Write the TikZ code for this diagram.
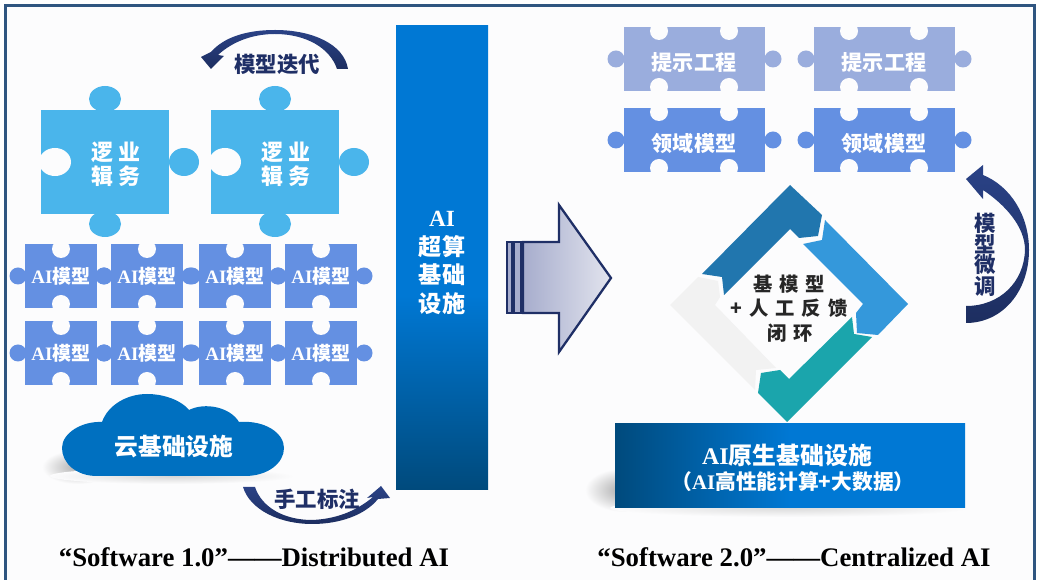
\documentclass[tikz,border=0pt]{standalone}
\usepackage{fontspec}
\setmainfont{Liberation Serif}
\newfontfamily\cjk{Noto Sans CJK SC}
\newfontfamily\cjkwide[LetterSpace=36]{Noto Sans CJK SC}
\definecolor{framecol}{HTML}{2F5580}
\definecolor{bgcol}{HTML}{FCFCFD}
\definecolor{bigcol}{HTML}{4AB5EB}
\definecolor{modelcol}{HTML}{6490E2}
\definecolor{promptcol}{HTML}{9AADDD}
\definecolor{cloudcol}{HTML}{0070C0}
\definecolor{deepblue}{HTML}{004A7C}
\definecolor{brightblue}{HTML}{0078D4}
\definecolor{navy}{HTML}{1F2F66}
\definecolor{navytop}{HTML}{2A4286}
\definecolor{navybot}{HTML}{1D2E60}
\definecolor{arrowleft}{HTML}{A7ADCD}
\definecolor{arrowright}{HTML}{E2E4EE}
\definecolor{cycleone}{HTML}{2176AE}
\definecolor{cycletwo}{HTML}{3498DB}
\definecolor{cyclethree}{HTML}{1BA5AC}
\definecolor{cyclefour}{HTML}{F2F2F2}
\pgfdeclareverticalshading{barshade}{100bp}{color(0bp)=(deepblue); color(25bp)=(deepblue); color(46bp)=(brightblue); color(100bp)=(brightblue)}
\pgfdeclarehorizontalshading{baseshade}{100bp}{color(0bp)=(deepblue); color(25bp)=(deepblue); color(50bp)=(brightblue); color(100bp)=(brightblue)}
\newcommand{\AIbold}{{\rmfamily\bfseries AI}}
\tikzset{
	bigtext/.style={text=white, inner sep=0pt, align=center, font=\cjk\bfseries\fontsize{12.5}{13.6}\selectfont},
	modeltext/.style={text=white, inner sep=0pt, font=\cjk\bfseries\fontsize{10.8}{12}\selectfont},
	widetext/.style={text=white, inner sep=0pt, font=\cjk\bfseries\fontsize{12}{14}\selectfont},
	cycletext/.style={text=black!85, inner sep=0pt, font=\cjkwide\bfseries\fontsize{11}{13}\selectfont},
	arrowtext/.style={text=navy, inner sep=0pt, align=center, font=\cjk\bfseries\fontsize{12.2}{11.5}\selectfont},
	captiontext/.style={inner sep=0pt, font=\rmfamily\bfseries\fontsize{15.25}{17}\selectfont},
	curvearrow/.style={top color=navytop, bottom color=navybot, draw=none},
}
\begin{document}
\begin{tikzpicture}[x=0.02cm, y=-0.02cm]
	\useasboundingbox (0,0) rectangle (1038,580);
	\fill[white] (0,0) rectangle (1038,580);
	\fill[bgcol] (5,5) rectangle (1035,580);
	\draw[framecol, line width=1.6pt] (5.5,580) -- (5.5,5.5) -- (1034.5,5.5) -- (1034.5,580);

	% big pieces
	\foreach \x in {41, 211} {
		\fill[bigcol] (\x+64,99) ellipse [x radius=16, y radius=13];
		\fill[bigcol] (\x+64,224) ellipse [x radius=16, y radius=13];
		\fill[bigcol] (\x+143,162) ellipse [x radius=15, y radius=14];
		\fill[bigcol] (\x,110) rectangle ++(128,104);
		\fill[bgcol] (\x+14,162) ellipse [x radius=16, y radius=14];
	}
	\node[bigtext] (logicone) at (116,164) {逻 业\\辑 务};
	\node[bigtext] (logictwo) at (286,164) {逻 业\\辑 务};

	% AI model pieces
	\foreach \y [count=\r] in {244, 321} {
		\foreach \x [count=\c] in {25, 111, 199, 285} {
			\fill[modelcol] (\x-7,\y+32) circle [radius=8.5];
			\fill[modelcol] (\x+79,\y+32) circle [radius=8.5];
			\fill[modelcol] (\x,\y) rectangle ++(72,64);
			\fill[bgcol] (\x+36,\y+5) circle [radius=9];
			\fill[bgcol] (\x+36,\y+60) circle [radius=9];
			\node[modeltext] (model\r\c) at (\x+36,\y+32) {\AIbold 模型};
		}
	}

	% prompt and domain pieces
	\foreach \y/\piececol/\piecename [count=\r] in {27/promptcol/提示工程, 108/modelcol/领域模型} {
		\foreach \x [count=\c] in {624, 814} {
			\fill[\piececol] (\x-8,\y+32) circle [radius=8.5];
			\fill[\piececol] (\x+149,\y+32) circle [radius=8.5];
			\fill[\piececol] (\x,\y) rectangle ++(141,64.5);
			\foreach \n in {35, 105} {
				\fill[bgcol] (\x+\n,\y+4) circle [radius=9];
				\fill[bgcol] (\x+\n,\y+60) circle [radius=9];
			}
			\node[widetext] (piece\r\c) at (\x+70,\y+36) {\piecename};
		}
	}

	% cloud
	\shade[inner color=black!32, outer color=bgcol] (78,467) ellipse [x radius=36, y radius=17];
	\shade[inner color=black!16, outer color=bgcol] (172,476) ellipse [x radius=122, y radius=8];
	\fill[cloudcol] (97,476) .. controls (76,476) and (62,463) .. (62,448)
		.. controls (62,433) and (82,421) .. (102,422)
		.. controls (108,405) and (127,394) .. (147,394)
		.. controls (165,394) and (182,401) .. (189,410)
		.. controls (205,402) and (230,407) .. (239,422)
		.. controls (265,420) and (284,433) .. (284,448)
		.. controls (284,463) and (268,476) .. (245,476) -- cycle;
	\node[bigtext, font=\cjk\bfseries\fontsize{13.5}{14}\selectfont] (cloudtext) at (174,447) {云基础设施};

	% curved arrows
	\path[curvearrow] (348,69) .. controls (344,44) and (312,30) .. (275,30)
		.. controls (247,30) and (224,37) .. (211,52) -- (201,57) -- (211,69) -- (224,56) -- (218,55)
		.. controls (232,42) and (252,34) .. (275,34)
		.. controls (306,34) and (330,48) .. (337,69) -- cycle;
	\node[arrowtext] (iterate) at (277,64) {模型迭代};

	\path[curvearrow] (243,487) .. controls (250,510) and (280,524) .. (312,524)
		.. controls (340,524) and (365,515) .. (378,499) -- (390,498) -- (381,486) -- (367,498) -- (373,497)
		.. controls (355,512) and (335,519) .. (312,520)
		.. controls (285,520) and (262,508) .. (255,487) -- cycle;
	\node[arrowtext] (labeling) at (317,499) {手工标注};

	\path[curvearrow] (983,175) .. controls (1010,186) and (1029,215) .. (1029,250)
		.. controls (1029,292) and (1002,323) .. (966,323) -- (966,306)
		.. controls (1000,306) and (1024,282) .. (1025,250)
		.. controls (1025,226) and (1004,204) .. (983,190) -- (983,199) -- (966,179) -- (983,165) -- cycle;
	\node[arrowtext] (finetune) at (985,255) {模\\型\\微\\调};

	% AI bar
	\fill[shading=barshade] (396,26) rectangle (488,490);
	\node[bigtext, font=\cjk\bfseries\fontsize{13.2}{16.4}\selectfont] (aibar) at (442,263) {\AIbold\\超算\\基础\\设施};

	% block arrow
	\shade[left color=arrowleft, right color=arrowright, draw=navy, line width=1.3pt]
		(523,242) -- (559,242) -- (559,205) -- (611,278) -- (559,352) -- (559,313) -- (523,313) -- cycle;
	\foreach \xa/\xb in {507/512, 514/521} {
		\draw[draw=navy, fill=arrowleft, line width=1.3pt] (\xa,242) rectangle (\xb,313);
	}

	% cycle
	\fill[cycleone] (790,185) -- (822,215) -- (818,236) -- (799,238) -- (790,229) -- (724,295) -- (722,277) -- (702,274) -- cycle;
	\fill[cycletwo] (825,220) -- (908,304) -- (878,335) -- (857,333) -- (856,313) -- (863,304) -- (803,244) -- (822,240) -- cycle;
	\fill[cyclethree] (852,317) -- (854,334) -- (872,337) -- (787,422) -- (758,393) -- (761,373) -- (780,370) -- (789,379) -- cycle;
	\fill[cyclefour] (776,368) -- (756,370) -- (755,390) -- (670,305) -- (698,277) -- (718,281) -- (720,297) -- (715,305) -- cycle;
	\node[cycletext] (cyclea) at (789,284) {基模型};
	\node[cycletext] (cycleb) at (789,308) {+人工反馈};
	\node[cycletext] (cyclec) at (790,333) {闭环};

	% AI native base
	\shade[inner color=black!35, outer color=bgcol] (625,490) ellipse [x radius=40, y radius=22];
	\shade[inner color=black!14, outer color=bgcol] (790,508) ellipse [x radius=180, y radius=9];
	\fill[shading=baseshade] (615,424) rectangle (965,508);
	\node[bigtext, font=\cjk\bfseries\fontsize{13.6}{14}\selectfont] (basea) at (787,455) {\AIbold 原生基础设施};
	\node[bigtext, font=\cjk\bfseries\fontsize{11.8}{14}\selectfont] (baseb) at (793,482) {（\AIbold 高性能计算+大数据）};

	% captions
	\node[captiontext] (capone) at (254,557) {“Software 1.0”——Distributed AI};
	\node[captiontext] (captwo) at (794,557) {“Software 2.0”——Centralized AI};
\end{tikzpicture}
\end{document}
